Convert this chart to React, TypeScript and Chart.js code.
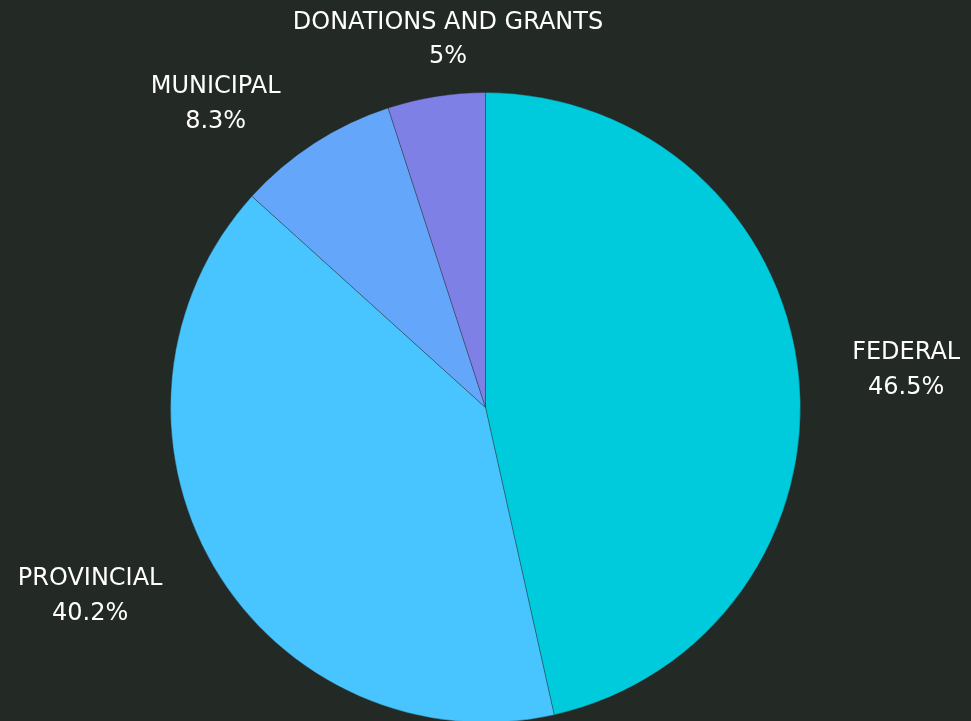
import React, { useEffect, useRef } from "react";
import { Chart, registerables } from "chart.js";

Chart.register(...registerables);

const categories = ["FEDERAL", "PROVINCIAL", "MUNICIPAL", "DONATIONS AND GRANTS"];
const shares = [46.5, 40.2, 8.3, 5];
const sliceColors = ["#00CBDD", "#48C5FF", "#63A6FA", "#7F80E5"];

const BG = "#232924";
const LABEL_FONT = "24px 'DejaVu Sans'";
const LINE_GAP = 34.5;
const LABEL_RADIUS_FACTOR = 1.35;
const LABEL_NUDGES: [number, number][] = [
  [-2, 7],
  [-28, -28],
  [-38.6, 51],
  [29, 50],
];

const outsideLabels = {
  id: "outsideLabels",
  afterDraw(chart: any) {
    const ctx = chart.ctx;
    const meta = chart.getDatasetMeta(0);
    ctx.save();
    ctx.font = LABEL_FONT;
    ctx.fillStyle = "#ffffff";
    ctx.textAlign = "center";
    ctx.textBaseline = "alphabetic";
    meta.data.forEach((arc: any, i: number) => {
      const p = arc.getProps(["x", "y", "startAngle", "endAngle", "outerRadius"], true);
      const mid = (p.startAngle + p.endAngle) / 2;
      const r = p.outerRadius * LABEL_RADIUS_FACTOR;
      const nudge = LABEL_NUDGES[i] || [0, 0];
      const cx = p.x + Math.cos(mid) * r + nudge[0];
      const cy = p.y + Math.sin(mid) * r + nudge[1];
      const capHalf = 0.365 * 24;
      ctx.fillText(String(chart.data.labels[i]), cx, cy - LINE_GAP / 2 + capHalf);
      ctx.fillText(chart.data.datasets[0].data[i] + "%", cx, cy + LINE_GAP / 2 + capHalf);
    });
    ctx.restore();
  },
};

export default function App() {
  const canvasRef = useRef<HTMLCanvasElement | null>(null);

  useEffect(() => {
    document.body.style.margin = "0";
    document.body.style.background = BG;
    const canvas = canvasRef.current;
    if (!canvas) return;
    const chart = new Chart(canvas, {
      type: "pie",
      data: {
        labels: categories,
        datasets: [
          {
            data: shares,
            backgroundColor: sliceColors,
            borderColor: "rgba(35,41,36,0.35)",
            borderWidth: 1,
          },
        ],
      },
      options: {
        animation: false,
        responsive: false,
        maintainAspectRatio: false,
        layout: { padding: { top: 92, bottom: 1, left: 0, right: 0 } },
        plugins: {
          legend: { display: false },
          tooltip: { enabled: false },
        },
      },
      plugins: [outsideLabels],
    });
    return () => chart.destroy();
  }, []);

  return (
    <div
      style={{
        position: "fixed",
        left: 0,
        top: 0,
        width: 971,
        height: 721,
        overflow: "hidden",
        background: BG,
      }}
    >
      <canvas ref={canvasRef} width={971} height={724} style={{ width: 971, height: 724, display: "block" }} />
    </div>
  );
}
